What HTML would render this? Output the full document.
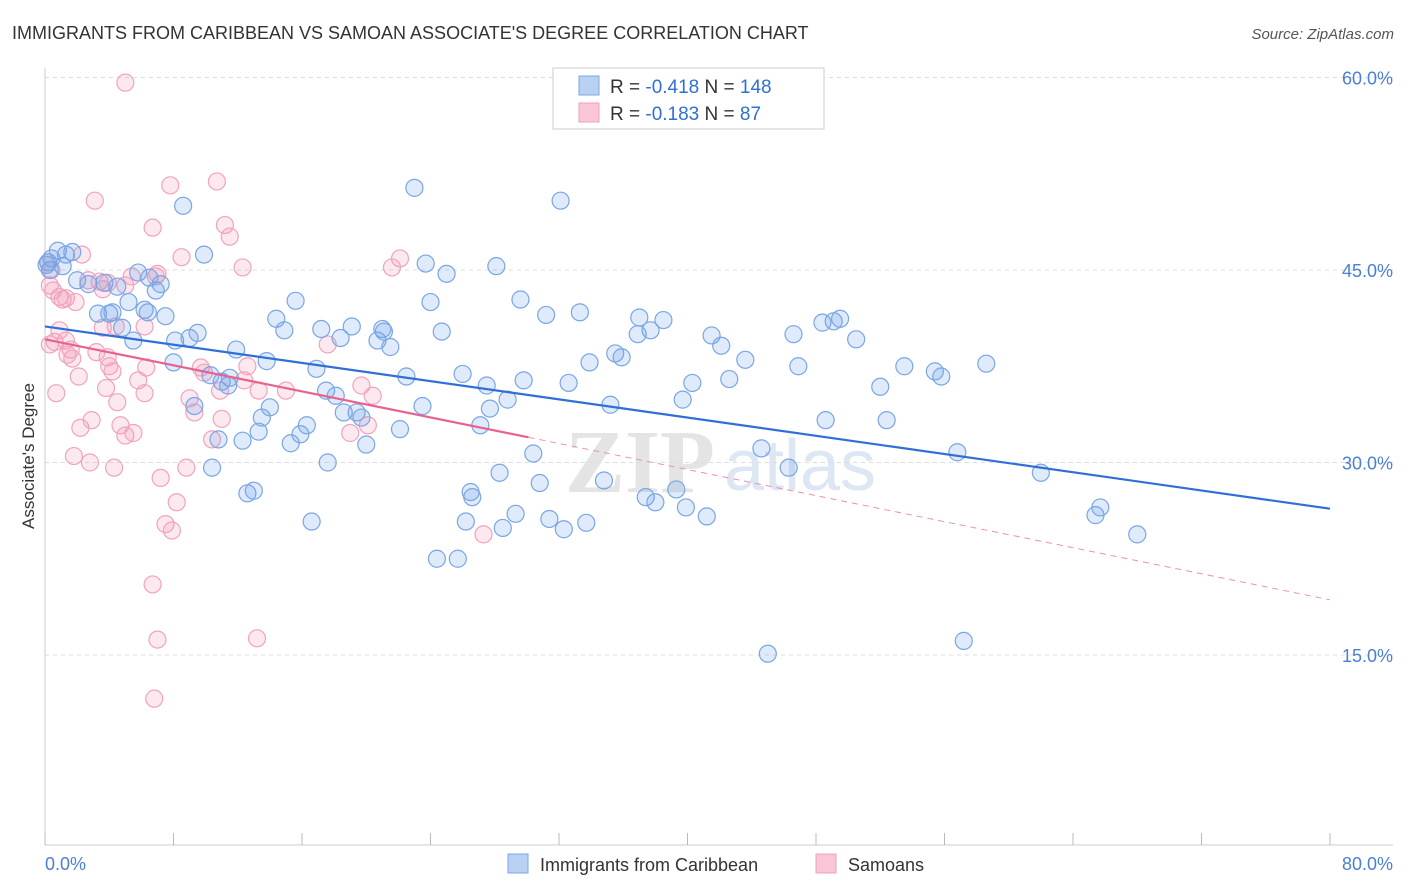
<!DOCTYPE html>
<html><head><meta charset="utf-8">
<style>
body{margin:0;background:#fff;font-family:"Liberation Sans",sans-serif;}
svg{display:block}
</style></head>
<body>
<svg id="chart" width="1406" height="892" viewBox="0 0 1406 892">
<text x="12" y="39" font-size="18" fill="#333">IMMIGRANTS FROM CARIBBEAN VS SAMOAN ASSOCIATE'S DEGREE CORRELATION CHART</text>
<text x="1394" y="39" font-size="15" fill="#555" font-style="italic" text-anchor="end">Source: ZipAtlas.com</text>
<text x="640" y="492" font-size="90" fill="#e4e4e4" font-family="Liberation Serif,serif" font-weight="bold" text-anchor="middle">ZIP</text>
<text x="800" y="490" font-size="72" fill="#dde6f3" text-anchor="middle">atlas</text>
<g id="grid"></g>
<g id="axes"></g>
<g id="pinkPts"></g>
<g id="bluePts"></g>
<g id="lines"></g>
<text x="34" y="456" font-size="17" fill="#333" transform="rotate(-90 34 456)" text-anchor="middle">Associate's Degree</text>
<g>
<rect x="553" y="68" width="271" height="61" fill="#fff" stroke="#ccc"/>
<rect x="579" y="76" width="20" height="19" fill="#b8d0f2" stroke="#7aa7e6"/>
<rect x="579" y="103" width="20" height="19" fill="#f9c6d6" stroke="#f0a0bb"/>
<text x="610" y="93" font-size="19" fill="#333">R = <tspan fill="#2f6fd6">-0.418</tspan>   N = <tspan fill="#2f6fd6">148</tspan></text>
<text x="610" y="120" font-size="19" fill="#333">R = <tspan fill="#2f6fd6">-0.183</tspan>   N = <tspan fill="#2f6fd6"> 87</tspan></text>
</g>
<g>
<rect x="508" y="854" width="20" height="19" fill="#b8d0f2" stroke="#7aa7e6"/>
<text x="540" y="871" font-size="18" fill="#333">Immigrants from Caribbean</text>
<rect x="816" y="854" width="20" height="19" fill="#f9c6d6" stroke="#f0a0bb"/>
<text x="848" y="871" font-size="18" fill="#333">Samoans</text>
</g>
</svg>
<script>
const yTicks=[15,30,45,60];
const yTickLabels=["15.0%","30.0%","45.0%","60.0%"];
const xTicks=[0,8,16,24,32,40,48,56,64,72,80];
const xEndLabels=["0.0%","80.0%"];
const blueX=[0.2,0.4,0.8,1.1,1.3,1.7,2.0,2.7,3.3,3.7,4.0,4.2,4.5,4.8,5.2,5.5,5.8,6.2,6.4,6.5,6.9,7.2,7.5,8.0,8.1,8.6,9.0,9.3,9.5,9.9,10.3,10.4,10.8,11.0,11.4,11.5,11.9,12.3,12.6,13.0,13.3,13.5,13.8,14.0,14.4,14.9,15.3,15.6,15.9,16.3,16.6,16.9,17.2,17.5,17.6,18.1,18.4,18.6,19.1,19.4,19.7,20.0,20.7,21.0,21.1,21.5,22.1,22.5,23.0,23.5,23.7,24.0,24.4,24.7,25.0,25.7,26.0,26.2,26.5,26.6,27.1,27.5,27.7,28.1,28.3,28.5,28.8,29.3,29.6,29.8,30.4,30.8,31.2,31.4,32.1,32.3,32.6,33.3,33.7,33.9,34.8,35.2,35.5,35.9,37.0,36.9,37.4,37.7,38.0,38.5,39.3,39.7,39.9,40.3,41.2,41.5,42.1,42.6,43.6,44.6,45.0,46.3,46.6,46.9,48.4,48.6,49.1,49.5,50.5,52.0,52.4,53.5,55.4,55.8,56.8,57.2,58.6,62.0,65.4,65.7,68.0,0.1,0.3];
const blueY=[45.6,45.9,46.5,45.3,46.2,46.4,44.2,43.9,41.6,44.0,41.6,41.7,43.7,40.5,42.5,39.5,44.8,41.9,41.7,44.4,43.4,43.9,41.4,37.8,39.5,50.0,39.7,34.4,40.1,46.2,36.8,29.6,31.8,36.3,36.0,36.6,38.8,31.7,27.6,27.8,32.4,33.5,37.9,34.3,41.2,40.3,31.5,42.6,32.2,32.9,25.4,37.3,40.4,35.6,30.0,35.2,39.7,33.9,40.6,33.9,33.5,31.4,39.5,40.4,40.2,39.0,32.6,36.7,51.4,34.4,45.5,42.5,22.5,40.2,44.7,22.5,36.9,25.4,27.7,27.3,32.9,36.0,34.2,45.3,29.2,24.9,34.9,26.0,42.7,36.4,30.7,28.4,41.5,25.6,50.4,24.8,36.2,41.7,25.3,37.8,28.6,34.5,38.5,38.2,41.3,40.0,27.3,40.3,26.9,41.1,27.9,34.9,26.5,36.2,25.8,39.9,39.1,36.5,38.0,31.1,15.1,29.6,40.0,37.5,40.9,33.3,41.0,41.2,39.6,35.9,33.3,37.5,37.1,36.7,30.8,16.1,37.7,29.2,25.9,26.5,24.4,45.4,45.0];
const pinkX=[5.0,3.1,7.8,10.7,6.7,8.5,11.2,11.5,12.3,22.1,21.6,0.2,0.4,0.3,0.9,1.1,1.3,1.9,2.3,2.7,3.4,3.6,3.9,5.0,5.4,6.9,7.0,0.6,0.3,0.9,1.3,1.6,1.7,1.4,2.1,3.2,3.6,3.9,4.0,4.2,3.8,4.4,4.5,4.7,5.0,5.5,5.8,6.2,6.3,6.2,2.2,2.9,1.8,2.8,4.3,7.2,7.5,7.9,8.2,8.8,9.0,9.3,9.7,9.9,10.4,11.0,10.9,12.4,12.6,13.3,15.0,17.6,19.0,19.7,20.4,20.1,27.3,6.7,7.0,13.2,6.8,0.7,0.5];
const pinkY=[59.6,50.4,51.6,51.9,48.3,46.0,48.5,47.6,45.2,45.9,45.2,45.6,45.0,43.8,42.9,42.7,42.8,42.5,46.2,44.2,44.1,43.5,44.0,43.8,44.5,44.5,44.7,39.4,39.2,40.3,39.5,38.8,38.1,38.4,36.7,38.6,40.5,38.2,37.5,37.1,35.8,40.6,34.7,32.9,32.1,32.3,36.4,40.6,37.4,35.4,32.7,33.3,30.5,30.0,29.6,28.8,25.2,24.7,26.9,29.6,35.0,33.9,37.4,37.0,31.8,33.4,35.6,36.4,37.5,35.6,35.6,39.2,32.3,36.0,35.2,32.9,24.4,20.5,16.2,16.3,11.6,35.4,43.4];
const blueTrend=[40.6,26.4]; // y at x=0 and x=80
const pinkTrend=[39.6,19.3];
const pinkSolidEnd=30.1;

const X0=45,X1=1330,Yb=847.5,PXY=192.5/15;
const sx=v=>X0+v*(X1-X0)/80;
const sy=v=>Yb-v*PXY;
const NS="http://www.w3.org/2000/svg";
function mk(tag,attrs,parent){const e=document.createElementNS(NS,tag);for(const k in attrs)e.setAttribute(k,attrs[k]);parent.appendChild(e);return e;}
const grid=document.getElementById('grid'),axes=document.getElementById('axes');
yTicks.forEach((t,i)=>{
  const l=mk('line',{x1:X0,x2:1393,y1:sy(t),y2:sy(t),stroke:'#ddd','stroke-dasharray':'4,4'},grid);
  
  
  const tx=mk('text',{x:1393,y:sy(t)+7,'font-size':18,fill:'#4a7fd6','text-anchor':'end'},axes);
  tx.textContent=yTickLabels[i];
  
  
});
const ax=mk('line',{x1:X0,x2:1393,y1:845,y2:845,stroke:'#ccc'},axes);


const ay=mk('line',{x1:X0,x2:X0,y1:68,y2:845,stroke:'#ccc'},axes);


xTicks.forEach(t=>{
  const l=mk('line',{x1:sx(t),x2:sx(t),y1:833,y2:845,stroke:'#bbb'},axes);
  
  
});
const xl0=mk('text',{x:45,y:870,'font-size':18,fill:'#4a7fd6'},axes);
xl0.textContent=xEndLabels[0];


const xl1=mk('text',{x:1393,y:870,'font-size':18,fill:'#4a7fd6','text-anchor':'end'},axes);
xl1.textContent=xEndLabels[1];


const pg=document.getElementById('pinkPts');
pinkX.forEach((v,i)=>{
  const c=mk('circle',{cx:sx(v),cy:sy(pinkY[i]),r:8.5,fill:'rgba(243,150,180,0.22)',stroke:'#f2a3bd','stroke-width':1.2},pg);
  
  
});
const bg=document.getElementById('bluePts');
blueX.forEach((v,i)=>{
  const c=mk('circle',{cx:sx(v),cy:sy(blueY[i]),r:8.5,fill:'rgba(110,160,230,0.22)',stroke:'#79a6e4','stroke-width':1.2},bg);
  
  
});
const lg=document.getElementById('lines');
const bl=mk('line',{x1:sx(0),y1:sy(blueTrend[0]),x2:sx(80),y2:sy(blueTrend[1]),stroke:'#2f6fd6','stroke-width':2.2},lg);


const pAt=x=>pinkTrend[0]+(pinkTrend[1]-pinkTrend[0])*x/80;
const pl=mk('line',{x1:sx(0),y1:sy(pAt(0)),x2:sx(pinkSolidEnd),y2:sy(pAt(pinkSolidEnd)),stroke:'#e8628f','stroke-width':2.2},lg);


const pd=mk('line',{x1:sx(pinkSolidEnd),y1:sy(pAt(pinkSolidEnd)),x2:sx(80),y2:sy(pAt(80)),stroke:'#eb8fae','stroke-width':1,'stroke-dasharray':'6,5'},lg);


</script>
</body></html>
